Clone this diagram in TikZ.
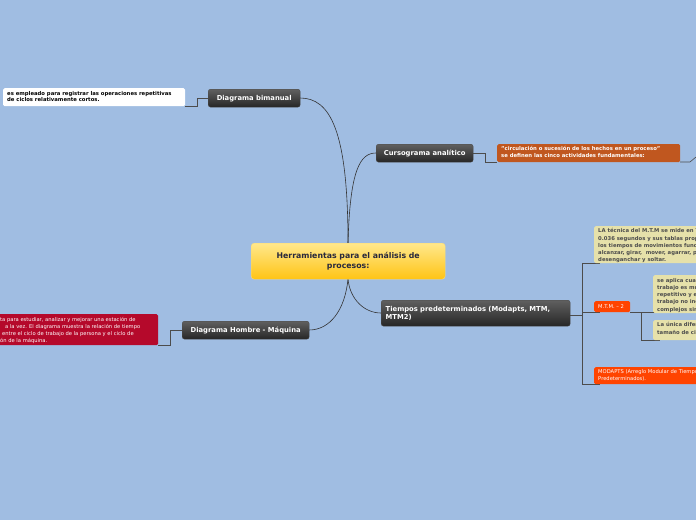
\documentclass[tikz,border=0pt]{standalone}
\usepackage{fontspec}
\setmainfont{DejaVu Sans}
\begin{document}
\begin{tikzpicture}[x=1pt,y=-1pt,
  topic/.style={rounded corners=2.5pt,top color=gray!75!black,bottom color=black!85,draw=black!70,text=white,font=\bfseries\fontsize{6.8}{8.2}\selectfont,inner sep=0pt,anchor=north west},
  note/.style={rounded corners=1.5pt,inner sep=0pt,anchor=north west},
  ntext/.style={font=\bfseries\fontsize{5.3}{6.6}\selectfont,align=left,anchor=north west,inner sep=0pt},
  conn/.style={draw=black!80,line width=0.6pt},
  sub/.style={draw=gray!60!black,line width=0.6pt}]
\fill[color={rgb,255:red,160;green,189;blue,226}] (0,0) rectangle (696,520);
\useasboundingbox (0,0) rectangle (696,520);
\begin{scope}
\clip (0,0) rectangle (696,520);
\coordinate (ct) at (348,243); \coordinate (cb) at (348,279);
\draw[conn] (ct) .. controls (348,130) and (330,98) .. (300,98);
\draw[conn] (ct) .. controls (350,170) and (360,153) .. (376,153);
\draw[conn] (cb) .. controls (350,300) and (365,313) .. (381,313);
\draw[conn] (cb) .. controls (345,310) and (330,330) .. (309,330);
\draw[sub] (208,98) -- (197,98) -- (197,106) -- (185,106);
\draw[sub] (473,153) -- (485,153) -- (485,162) -- (497,162);
\draw[sub] (680,162) -- (690,162) -- (696,157);
\draw[sub] (182,330) -- (170,330) -- (170,345) -- (158,345);
\draw[sub] (570,315) -- (582,315);
\draw[sub] (582,263) -- (582,384);
\draw[sub] (582,263) -- (600,263); \draw[sub] (582,312) -- (600,312); \draw[sub] (582,384) -- (600,384);
\draw[sub] (630,312) -- (641,312) -- (641,340) -- (660,340);
\draw[sub] (641,312) -- (660,312);
\node[rounded corners=3pt,top color={rgb,255:red,255;green,232;blue,140},bottom color={rgb,255:red,255;green,196;blue,20},draw={rgb,255:red,250;green,220;blue,120},minimum width=194pt,minimum height=36pt,inner sep=0pt,anchor=north west,align=center,font=\bfseries\fontsize{7.8}{9.5}\selectfont,text={rgb,255:red,40;green,40;blue,60}] (c) at (251,243) {Herramientas para el análisis de\\procesos:};
\node[topic,minimum width=92pt,minimum height=18pt] (bim) at (208,89) {Diagrama bimanual};
\node[topic,minimum width=97pt,minimum height=18pt] (cur) at (376,144) {Cursograma analítico};
\node[topic,minimum width=189pt,minimum height=26pt,align=left,text width=180pt] (tie) at (381,300) {Tiempos predeterminados (Modapts, MTM,\\MTM2)};
\node[topic,minimum width=127pt,minimum height=18pt] (hom) at (182,321) {Diagrama Hombre - Máquina};
\node[note,fill=white,minimum width=182pt,minimum height=18pt] (n1) at (3,88) {};
\node[ntext] at (7,91) {es empleado para registrar las operaciones repetitivas\\de ciclos relativamente cortos.};
\node[note,fill={rgb,255:red,192;green,87;blue,31},minimum width=183pt,minimum height=18pt] (n2) at (497,144) {};
\node[ntext,text=white] at (501,146.5) {"circulación o sucesión de los hechos en un proceso"\\se definen las cinco actividades fundamentales:};
\node[note,fill={rgb,255:red,181;green,9;blue,43},minimum width=170pt,minimum height=31pt] (n3) at (-12,314) {};
\node[ntext,text=white,font=\fontsize{5.2}{7.2}\selectfont] at (0,317) {ta para estudiar, analizar y mejorar una estación de\\\hspace*{5pt}a la vez. El diagrama muestra la relación de tiempo\\\hspace*{2pt}entre el ciclo de trabajo de la persona y el ciclo de\\ón de la máquina.};
\node[note,fill={rgb,255:red,230;green,225;blue,170},minimum width=120pt,minimum height=37pt] (r1) at (594,226) {};
\node[ntext,text=black!70,font=\bfseries\fontsize{5.3}{7.2}\selectfont] at (598,228.5) {LA técnica del M.T.M se mide en TMU, 1 TMU =\\0.036 segundos y sus tablas proporcionan\\los tiempos de movimientos fundamentales:\\alcanzar, girar,\ \ mover, agarrar, posicionar,\\desenganchar y soltar.};
\node[note,fill={rgb,255:red,255;green,68;blue,0},minimum width=36pt,minimum height=11pt] (m2) at (594,301) {};
\node[ntext,text=white,font=\fontsize{5.2}{6}\selectfont] at (598,304) {M.T.M. -- 2};
\node[note,fill={rgb,255:red,230;green,225;blue,170},minimum width=60pt,minimum height=38pt] (r2) at (653,275) {};
\node[ntext,text=black!70,font=\bfseries\fontsize{5.3}{7.2}\selectfont] at (657,278) {se aplica cuando el\\trabajo es muy\\repetitivo y el ciclo\\trabajo no incluye\\complejos simo};
\node[note,fill={rgb,255:red,230;green,225;blue,170},minimum width=60pt,minimum height=20pt] (r3) at (653,320) {};
\node[ntext,text=black!70,font=\bfseries\fontsize{5.3}{7.2}\selectfont] at (657,322.5) {La única diferencia\\tamaño de ciclo};
\node[note,fill={rgb,255:red,255;green,68;blue,0},minimum width=120pt,minimum height=17pt] (mo) at (594,367) {};
\node[ntext,text=white,font=\fontsize{5.2}{6.5}\selectfont] at (598,369.5) {MODAPTS (Arreglo Modular de Tiempos\\Predeterminados).};
\end{scope}
\end{tikzpicture}
\end{document}
